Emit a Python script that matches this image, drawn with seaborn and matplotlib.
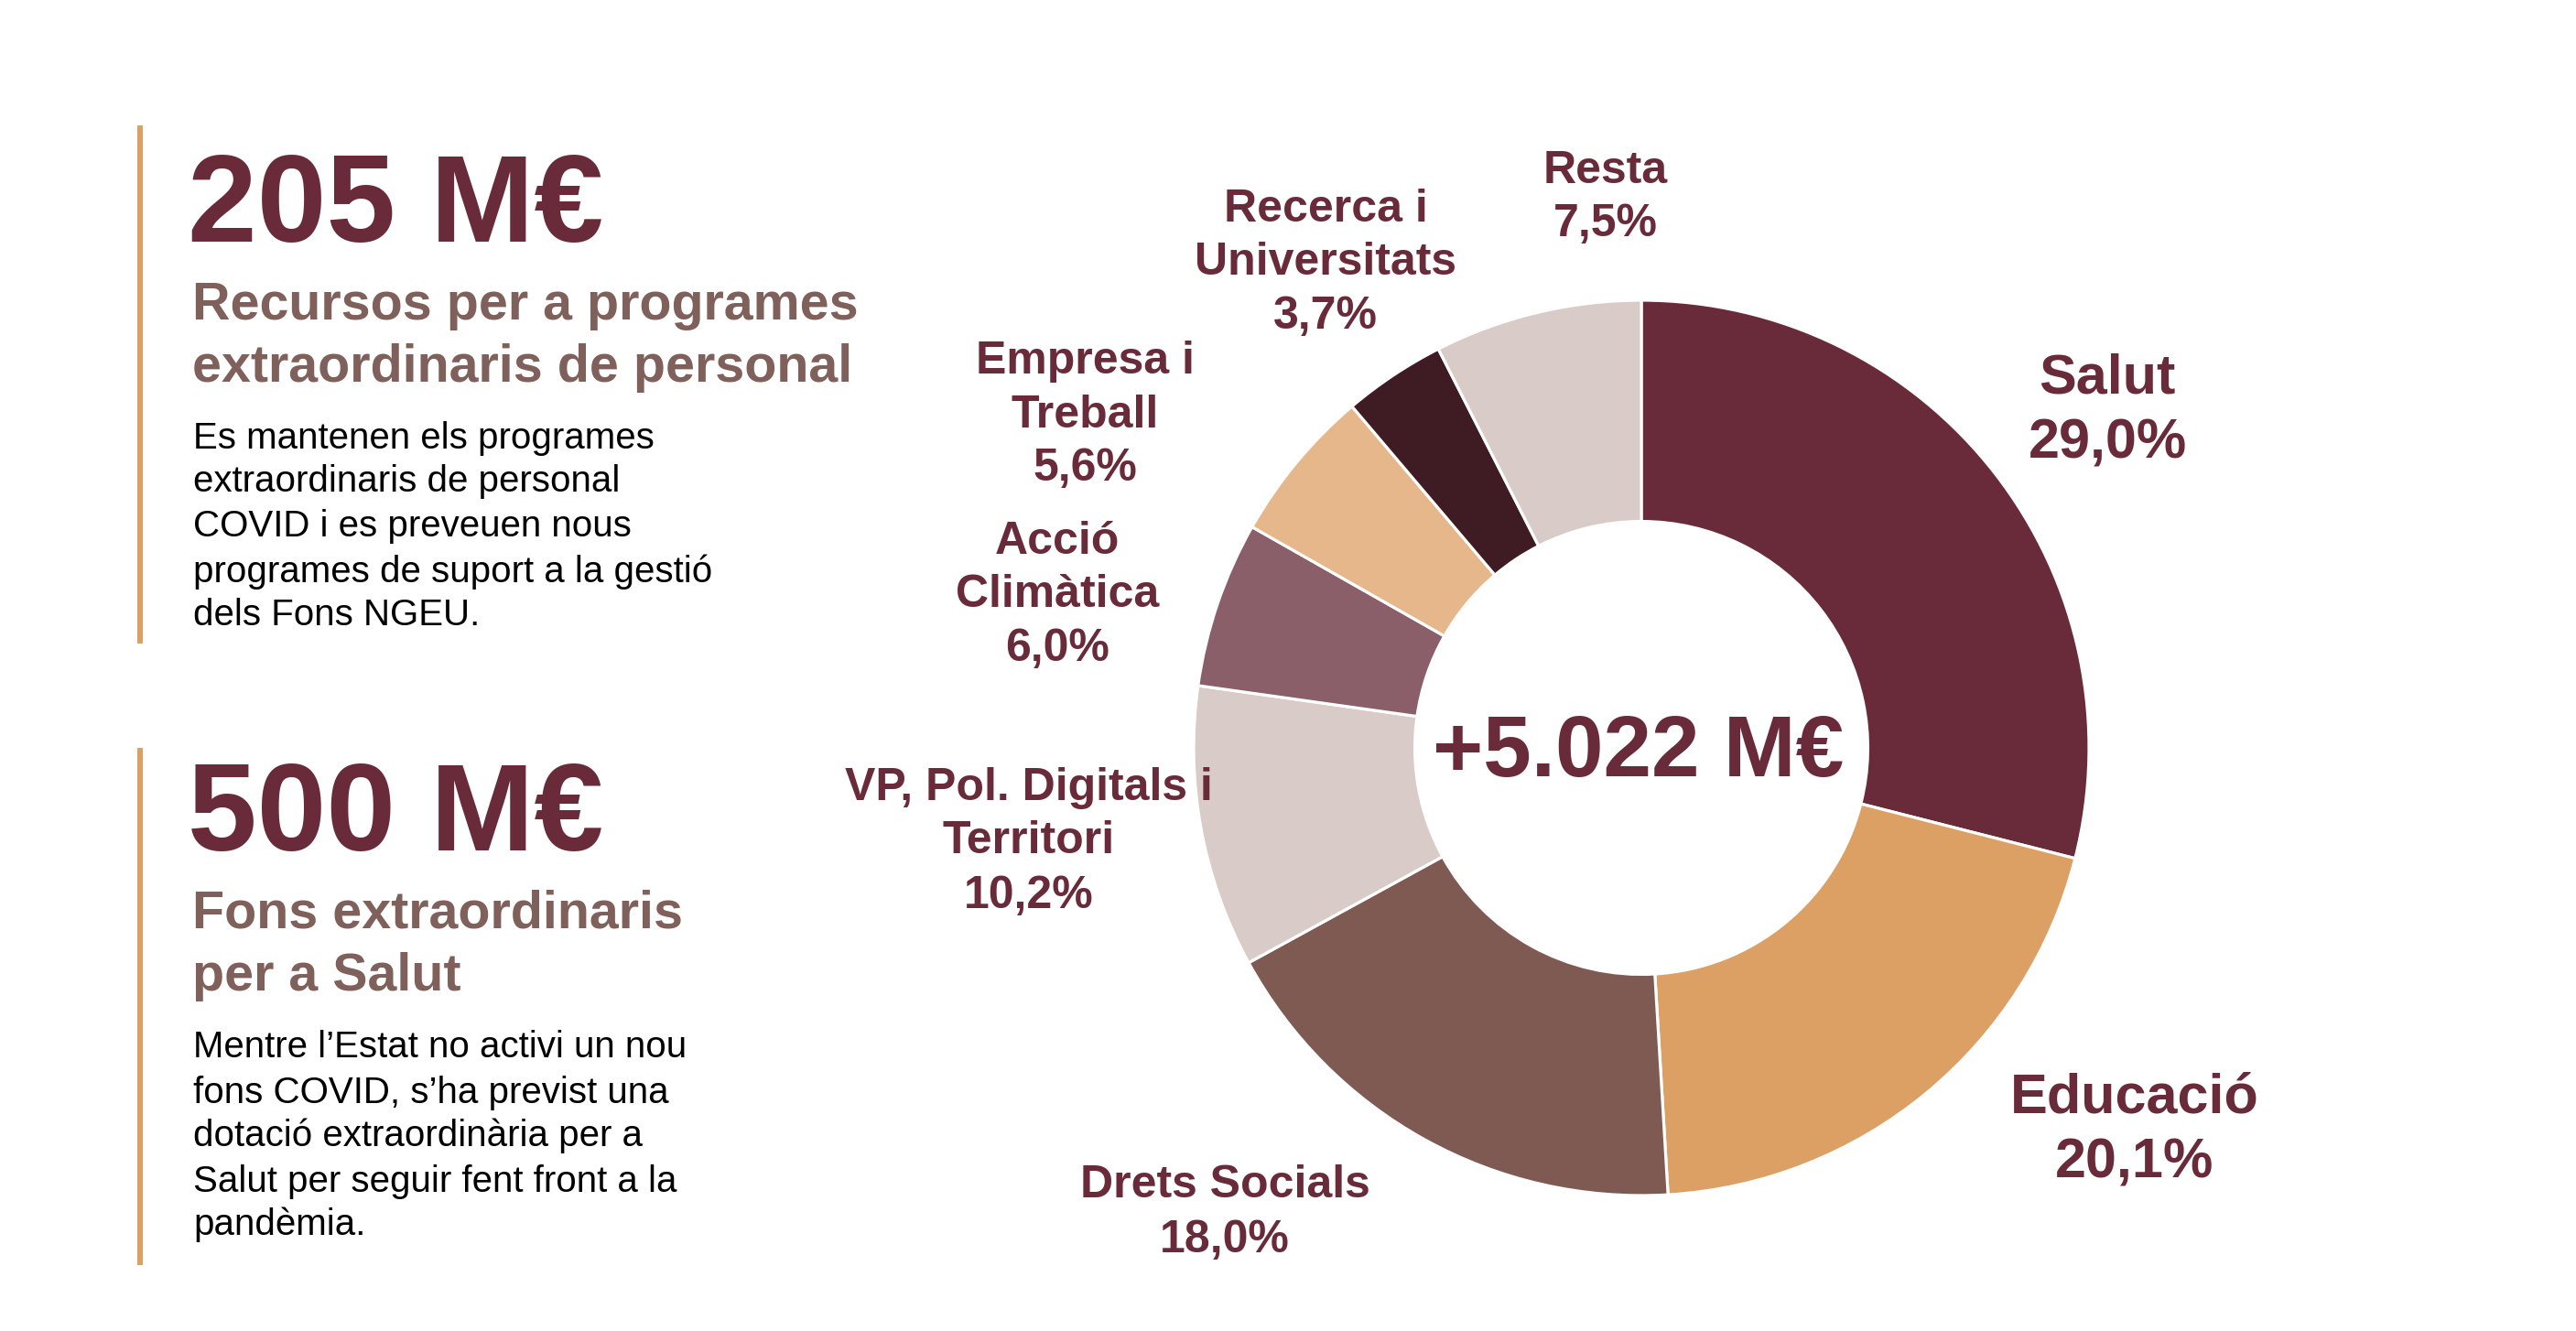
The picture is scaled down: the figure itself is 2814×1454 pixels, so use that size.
import matplotlib
matplotlib.use("Agg")
import matplotlib.pyplot as plt
import seaborn as sns

# ---------------- data ----------------
categories = ["Salut", "Educació", "Drets Socials", "VP, Pol. Digitals i\nTerritori",
              "Acció\nClimàtica", "Empresa i\nTreball", "Recerca i\nUniversitats", "Resta"]
shares = [29.0, 20.1, 18.0, 10.2, 6.0, 5.6, 3.7, 7.5]
total_label = "+5.022 M€"

block_amounts = ["205 M€", "500 M€"]
block_titles = [["Recursos per a programes", "extraordinaris de personal"],
                ["Fons extraordinaris", "per a Salut"]]
block_texts = [["Es mantenen els programes", "extraordinaris de personal",
                "COVID i es preveuen nous", "programes de suport a la gestió",
                "dels Fons NGEU."],
               ["Mentre l’Estat no activi un nou", "fons COVID, s’ha previst una",
                "dotació extraordinària per a", "Salut per seguir fent front a la",
                "pandèmia."]]

# ---------------- style ----------------
sns.set_theme(style="white")
plt.rcParams["font.family"] = ["Liberation Sans", "DejaVu Sans"]

wedge_colors = sns.color_palette(["#692B3A", "#DDA064", "#7F5A52", "#D9CCC8",
                                  "#8A5F6A", "#E5B78B", "#3F1C24", "#D9CCC8"])
dark = "#692B3A"
sub_col = "#80605A"
bar_col = "#DDA064"

W, H = 2814, 1454
fig = plt.figure(figsize=(W / 100, H / 100), dpi=100)
fig.patch.set_facecolor("white")


def fx(x):
    return x / W


def fy(y):
    return 1 - y / H


# ---------------- donut ----------------
cx, cy, R = 1793, 817, 489
ax = fig.add_axes([fx(cx - R), (H - cy - R) / H, 2 * R / W, 2 * R / H])
ax.pie(shares, colors=wedge_colors, startangle=90, counterclock=False, radius=1,
       wedgeprops=dict(width=0.494, edgecolor="white", linewidth=2.3))
ax.set_xlim(-1, 1)
ax.set_ylim(-1, 1)
ax.set_aspect("equal")
ax.axis("off")

ax.text(-0.006, -0.064, total_label, ha="center", va="baseline", fontsize=68,
        fontweight="bold", color=dark)

# label layout: x centre and baselines (pixels) per category
label_x = [2302, 2332, 1338, 1124, 1155, 1185, 1448, 1754]
label_base = [[430, 500], [1215, 1286], [1308, 1368], [874, 932, 992],
              [605, 663, 722], [408, 467, 525], [242, 300, 359], [200, 258]]
label_size = [44, 44, 36, 36, 36, 36, 36, 36]

for name, val, x, bases, fs in zip(categories, shares, label_x, label_base, label_size):
    lines = name.split("\n") + [f"{val:.1f}".replace(".", ",") + "%"]
    for line, yb in zip(lines, bases):
        fig.text(fx(x), fy(yb), line, ha="center", va="baseline", fontsize=fs,
                 fontweight="bold", color=dark)

# ---------------- left text blocks ----------------
bar_spans = [(137, 703), (817, 1382)]
amount_base = [264, 929]
title_base = [[349, 417], [1014, 1082]]
text_base = [[490, 537, 586, 636, 683], [1155, 1205, 1252, 1302, 1349]]

for i in range(2):
    y0, y1 = bar_spans[i]
    fig.add_artist(plt.Rectangle((fx(150), fy(y1)), 6 / W, (y1 - y0) / H,
                                 transform=fig.transFigure, color=bar_col, lw=0))
    fig.text(fx(205), fy(amount_base[i]), block_amounts[i], ha="left", va="baseline",
             fontsize=98, fontweight="bold", color=dark)
    for line, yb in zip(block_titles[i], title_base[i]):
        fig.text(fx(210), fy(yb), line, ha="left", va="baseline", fontsize=41.3,
                 fontweight="bold", color=sub_col)
    for line, yb in zip(block_texts[i], text_base[i]):
        fig.text(fx(211), fy(yb), line, ha="left", va="baseline", fontsize=29,
                 color="black")

fig.savefig("out.png", dpi=100, facecolor="white")
